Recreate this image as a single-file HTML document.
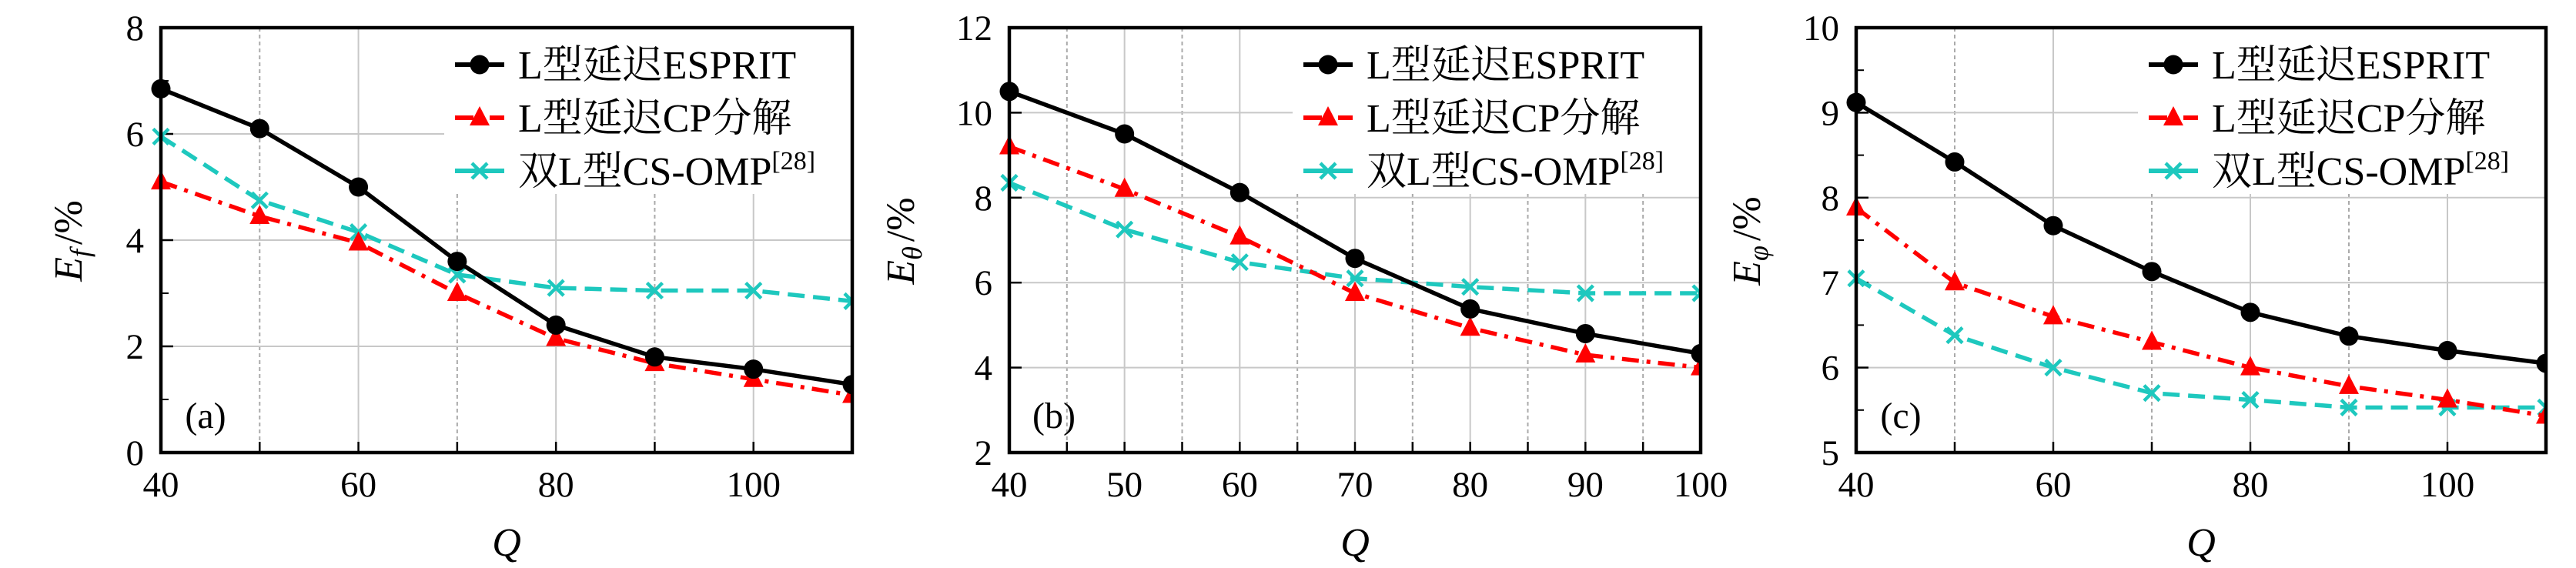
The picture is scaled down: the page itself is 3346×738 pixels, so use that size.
<!DOCTYPE html>
<html><head><meta charset="utf-8">
<style>
html,body{margin:0;padding:0;background:#fff;}
svg{display:block;}
svg text{font-family:"Liberation Serif","Noto Serif CJK SC",serif;fill:#000;}
</style></head>
<body>
<svg id="fig" width="3346" height="738" viewBox="0 0 3346 738" xmlns="http://www.w3.org/2000/svg" font-family="'Liberation Serif', 'Noto Serif CJK SC', serif"></svg>
<script>
// Panel (a)
const qA = [40,50,60,70,80,90,100,110];
const espritA = [6.85,6.1,5.0,3.6,2.4,1.8,1.57,1.28];
const cpA = [5.1,4.45,3.95,3.0,2.15,1.68,1.38,1.08];
const ompA = [5.95,4.75,4.15,3.35,3.1,3.05,3.05,2.85];
const yTicksA = [0,2,4,6,8];
const xTicksA = [40,60,80,100];
// Panel (b)
const qB = [40,50,60,70,80,90,100];
const espritB = [10.5,9.5,8.12,6.57,5.38,4.8,4.33];
const cpB = [9.2,8.2,7.08,5.75,4.93,4.3,4.0];
const ompB = [8.35,7.25,6.48,6.1,5.9,5.75,5.75];
const yTicksB = [2,4,6,8,10,12];
const xTicksB = [40,50,60,70,80,90,100];
// Panel (c)
const qC = [40,50,60,70,80,90,100,110];
const espritC = [9.12,8.42,7.67,7.13,6.65,6.37,6.2,6.05];
const cpC = [7.88,7.0,6.6,6.3,6.0,5.78,5.62,5.43];
const ompC = [7.05,6.38,6.0,5.7,5.62,5.53,5.53,5.53];
const yTicksC = [5,6,7,8,9,10];
const xTicksC = [40,60,80,100];
const legendLabels = ["L型延迟ESPRIT","L型延迟CP分解","双L型CS-OMP"];

const NS = "http://www.w3.org/2000/svg";
const svg = document.getElementById('fig');
const FONT = "'Liberation Serif', 'Noto Serif CJK SC', serif";
function mk(tag, attrs, parent){
  const e = document.createElementNS(NS, tag);
  for (const k in attrs) e.setAttribute(k, attrs[k]);
  if (tag === 'text') e.setAttribute('font-family', FONT);
  (parent||svg).appendChild(e);
  return e;
}

function panel(cfg){
  const g = mk('g', {});
  
  
  const L=cfg.L, R=cfg.R, T=36, B=588;
  const xs = v => L + (v - cfg.xmin)/(cfg.xmax - cfg.xmin)*(R-L);
  const ys = v => B - (v - cfg.ymin)/(cfg.ymax - cfg.ymin)*(B-T);
  const legL = R - 530, legB = 252;
  for (let v = cfg.xmin + cfg.minorX; v < cfg.xmax; v += cfg.minorX){
    const major = cfg.xTicks.indexOf(v) >= 0;
    const x = xs(v);
    const y1 = (x > legL) ? legB : T;
    const gl = mk('line', {x1:x, x2:x, y1:y1, y2:B, stroke: major ? '#c8c8c8' : '#aaa', 'stroke-width':2, 'stroke-dasharray': major ? '' : '5,4'}, g);
    
    
    mk('line', {x1:x, x2:x, y1:B, y2:B-14, stroke:'#000', 'stroke-width':2.5}, g);
  }
  cfg.yTicks.forEach(v => {
    const y = ys(v);
    if (v > cfg.ymin && v < cfg.ymax){
      const x2 = (y < legB) ? legL : R;
      const gl = mk('line', {x1:L, x2:x2, y1:y, y2:y, stroke:'#c8c8c8', 'stroke-width':2}, g);
      
      
      mk('line', {x1:L, x2:L+16, y1:y, y2:y, stroke:'#000', 'stroke-width':2.5}, g);
    }
    const t = mk('text', {x:L-22, y:y+16, 'font-size':47, 'text-anchor':'end'}, g);
    t.textContent = v;
    
    
  });
  cfg.yMinor.forEach(v => {
    const y = ys(v);
    mk('line', {x1:L, x2:L+10, y1:y, y2:y, stroke:'#000', 'stroke-width':2}, g);
  });
  cfg.xTicks.forEach(v => {
    const t = mk('text', {x:xs(v), y:645, 'font-size':47, 'text-anchor':'middle'}, g);
    t.textContent = v;
    
    
  });
  const clip = mk('clipPath', {id:'clip'+cfg.id}, g);
  mk('rect', {x:L-20, y:T, width:R-L+20, height:B-T}, clip);
  const sg = mk('g', {'clip-path':'url(#clip'+cfg.id+')'}, g);
  const series = [
    {vals:cfg.esprit, color:'#000', dash:'', w:5.5, marker:'circle', name:'series-esprit'},
    {vals:cfg.cp, color:'#f00', dash:'22,10,5,10', w:5.5, marker:'tri', name:'series-cp'},
    {vals:cfg.omp, color:'#1ec8be', dash:'22,11', w:5.5, marker:'x', name:'series-omp'}
  ];
  series.slice().reverse().forEach(s => {
    const pts = s.vals.map((v,i) => xs(cfg.q[i]) + ',' + ys(v)).join(' ');
    const pl = mk('polyline', {points:pts, fill:'none', stroke:s.color, 'stroke-width':s.w, 'stroke-dasharray':s.dash, 'stroke-linejoin':'round'}, sg);
    
    
    s.vals.forEach((v,i) => {
      drawMarker(s, xs(cfg.q[i]), ys(v), sg);
    });
  });
  function drawMarker(s, cx, cy, parent){
    let m;
    if (s.marker === 'circle') m = mk('circle', {cx:cx, cy:cy, r:12.5, fill:'#000'}, parent);
    else if (s.marker === 'tri') m = mk('polygon', {points:`${cx},${cy-15} ${cx-13},${cy+10} ${cx+13},${cy+10}`, fill:'#f00'}, parent);
    else m = mk('path', {d:`M${cx-10},${cy-10}L${cx+10},${cy+10}M${cx-10},${cy+10}L${cx+10},${cy-10}`, stroke:s.color, 'stroke-width':4.5, fill:'none'}, parent);
    
    
  }
  const fr = mk('rect', {x:L, y:T, width:R-L, height:B-T, fill:'none', stroke:'#000', 'stroke-width':4.5}, g);
  
  
  const lg = mk('g', {}, g);
  
  
  series.forEach((s, i) => {
    const y = 84 + i*69;
    const lx = legL + 14;
    const e = mk('g', {}, lg);
    
    
    mk('line', {x1:lx, x2:lx+64, y1:y, y2:y, stroke:s.color, 'stroke-width':6, 'stroke-dasharray': s.marker==='tri' ? '24,8,5,8' : ''}, e);
    drawMarker(s, lx+32, y, e);
    const t = mk('text', {x:lx+82, y:y+18, 'font-size':52}, e);
    t.textContent = legendLabels[i];
    if (i === 2){
      const sup = mk('tspan', {dy:-20, 'font-size':34}, t);
      sup.textContent = '[28]';
    }
  });
  const pl = mk('text', {x:L+58, y:556, 'font-size':48, 'text-anchor':'middle'}, g);
  pl.textContent = '(' + cfg.id + ')';
  
  
  const xt = mk('text', {x:(L+R)/2, y:722, 'font-size':52, 'font-style':'italic', 'text-anchor':'middle'}, g);
  xt.textContent = 'Q';
  
  
  const yt = mk('text', {x:0, y:0, 'font-size':52, 'text-anchor':'middle', transform:`translate(${cfg.yLabelX},313) rotate(-90)`}, g);
  
  
  const e1 = mk('tspan', {'font-style':'italic'}, yt); e1.textContent = 'E';
  const e2 = mk('tspan', {'font-style':'italic', 'font-size':36, dy:10}, yt); e2.textContent = cfg.sub;
  const e3 = mk('tspan', {dy:-10, dx:6}, yt); e3.textContent = '/%';
}

panel({id:'a', L:209, R:1107, xmin:40, xmax:110, ymin:0, ymax:8, minorX:10, xTicks:xTicksA, yTicks:yTicksA, yMinor:[1,3,5,7], q:qA, esprit:espritA, cp:cpA, omp:ompA, yLabelX:106, sub:'f'});
panel({id:'b', L:1311, R:2209, xmin:40, xmax:100, ymin:2, ymax:12, minorX:5, xTicks:xTicksB, yTicks:yTicksB, yMinor:[], q:qB, esprit:espritB, cp:cpB, omp:ompB, yLabelX:1187, sub:'θ'});
panel({id:'c', L:2411, R:3307, xmin:40, xmax:110, ymin:5, ymax:10, minorX:10, xTicks:xTicksC, yTicks:yTicksC, yMinor:[5.5,6.5,7.5,8.5,9.5], q:qC, esprit:espritC, cp:cpC, omp:ompC, yLabelX:2286, sub:'φ'});
</script>
</body></html>
